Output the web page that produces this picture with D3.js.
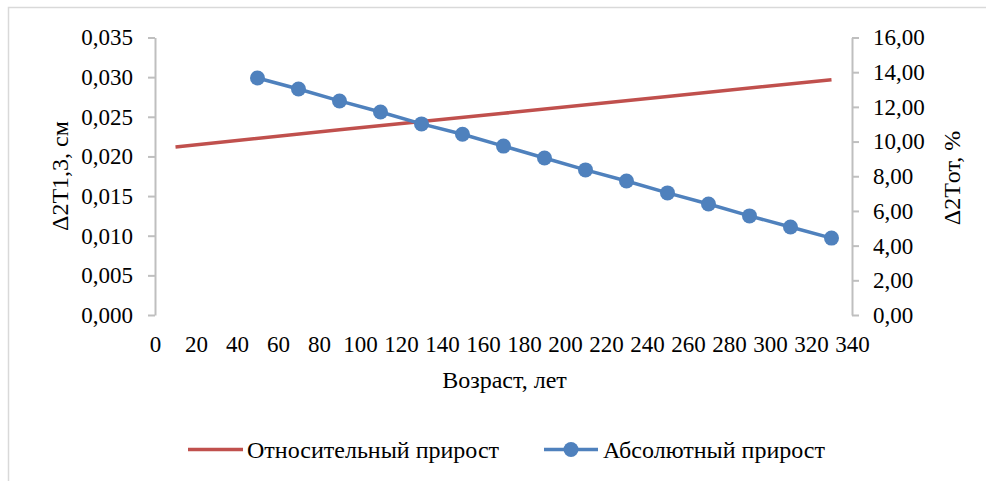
<!DOCTYPE html>
<html>
<head>
<meta charset="utf-8">
<script src="https://cdn.jsdelivr.net/npm/d3@7"></script>
<style>
  html, body { margin: 0; padding: 0; background: #fff; }
</style>
</head>
<body>
<svg id="chart" width="986" height="481" style="font-family: 'Liberation Serif', 'DejaVu Serif', serif;"></svg>
<script>
// ---- data ----
const absAges = [50, 70, 90, 110, 130, 150, 170, 190, 210, 230, 250, 270, 290, 310, 330];
const absValues = [0.0299, 0.0285, 0.0270, 0.0256, 0.0241, 0.0228, 0.0213, 0.0198, 0.0183, 0.0169, 0.0154, 0.0140, 0.0125, 0.0111, 0.0097];
const relAges = [10, 90, 170, 250, 330];
const relValues = [9.69, 10.68, 11.63, 12.60, 13.57];
const xTicks = [0, 20, 40, 60, 80, 100, 120, 140, 160, 180, 200, 220, 240, 260, 280, 300, 320, 340];
const leftTicks = [0, 0.005, 0.010, 0.015, 0.020, 0.025, 0.030, 0.035];
const rightTicks = [0, 2, 4, 6, 8, 10, 12, 14, 16];
const seriesNames = ["Относительный прирост", "Абсолютный прирост"];
const xTitle = "Возраст, лет";
const leftTitle = "Δ2T1,3, см";
const rightTitle = "Δ2Tот, %";

// ---- layout ----
const W = 986, H = 481;
const plot = { left: 155, right: 852, top: 37.5, bottom: 315 };
const FS = 23, FS_T = 24;
const FONT = "'Liberation Serif', 'DejaVu Serif', serif";
const RED = "#C0504D", BLUE = "#4F81BD", AXIS = "#BFBFBF";

const svg = d3.select("#chart");

// outer border
svg.append("rect")
  .attr("x", 8.5).attr("y", 7.5)
  .attr("width", W + 20).attr("height", H + 20)
  .attr("fill", "none").attr("stroke", "#D9D9D9").attr("stroke-width", 1.5);

const x = d3.scaleLinear().domain([0, 340]).range([plot.left, plot.right]);
const yL = d3.scaleLinear().domain([0, 0.035]).range([plot.bottom, plot.top]);
const yR = d3.scaleLinear().domain([0, 16]).range([plot.bottom, plot.top]);

const comma = (f) => (d) => d3.format(f)(d).replace(".", ",");

// left axis
const gL = svg.append("g").attr("transform", `translate(${plot.left},0)`)
  .call(d3.axisLeft(yL).tickValues(leftTicks).tickFormat(comma(".3f"))
    .tickSize(7).tickSizeOuter(0).tickPadding(15));
// right axis
const gR = svg.append("g").attr("transform", `translate(${plot.right},0)`)
  .call(d3.axisRight(yR).tickValues(rightTicks).tickFormat(comma(".2f"))
    .tickSize(7).tickSizeOuter(0).tickPadding(14));
// bottom axis
const gB = svg.append("g").attr("transform", `translate(0,${plot.bottom})`)
  .call(d3.axisBottom(x).tickValues(xTicks).tickFormat(d3.format("d"))
    .tickSize(0).tickPadding(21));

[gL, gR, gB].forEach(g => {
  g.attr("font-family", FONT).attr("font-size", FS);
  g.selectAll("path.domain").attr("stroke", AXIS).attr("stroke-width", 2);
  g.selectAll(".tick line").attr("stroke", AXIS).attr("stroke-width", 2);
  g.selectAll("text").style("font-family", FONT).attr("font-size", FS).attr("fill", "#000");
});
gB.select("path.domain").remove();

// lines
const lineL = d3.line().x((d, i) => x(absAges[i])).y(d => yL(d));
const lineR = d3.line().x((d, i) => x(relAges[i])).y(d => yR(d));

svg.append("path").datum(relValues)
  .attr("d", lineR).attr("fill", "none").attr("stroke", RED).attr("stroke-width", 3.5);

svg.append("path").datum(absValues)
  .attr("d", lineL).attr("fill", "none").attr("stroke", BLUE).attr("stroke-width", 3.5);

svg.append("g").selectAll("circle").data(absValues).join("circle")
  .attr("cx", (d, i) => x(absAges[i])).attr("cy", d => yL(d))
  .attr("r", 7.5).attr("fill", BLUE);

// titles
const txt = (sel) => sel.style("font-family", FONT).attr("font-size", FS_T).attr("fill", "#000");

svg.append("text").attr("x", (plot.left + plot.right) / 2 + 1).attr("y", 388)
  .attr("text-anchor", "middle").call(txt).text(xTitle);

svg.append("text").attr("transform", "translate(68,176) rotate(-90)")
  .attr("text-anchor", "middle").call(txt).text(leftTitle);

svg.append("text").attr("transform", "translate(960,178) rotate(-90)")
  .attr("text-anchor", "middle").call(txt).text(rightTitle);

// legend
const lg = svg.append("g");
lg.append("line").attr("x1", 188).attr("x2", 243).attr("y1", 449.5).attr("y2", 449.5)
  .attr("stroke", RED).attr("stroke-width", 3.5);
lg.append("text").attr("x", 247).attr("y", 458).call(txt).text(seriesNames[0]);
lg.append("line").attr("x1", 544).attr("x2", 598).attr("y1", 449.5).attr("y2", 449.5)
  .attr("stroke", BLUE).attr("stroke-width", 3.5);
lg.append("circle").attr("cx", 571).attr("cy", 449.5).attr("r", 7.5).attr("fill", BLUE);
lg.append("text").attr("x", 603).attr("y", 458).call(txt).text(seriesNames[1]);
</script>
</body>
</html>
